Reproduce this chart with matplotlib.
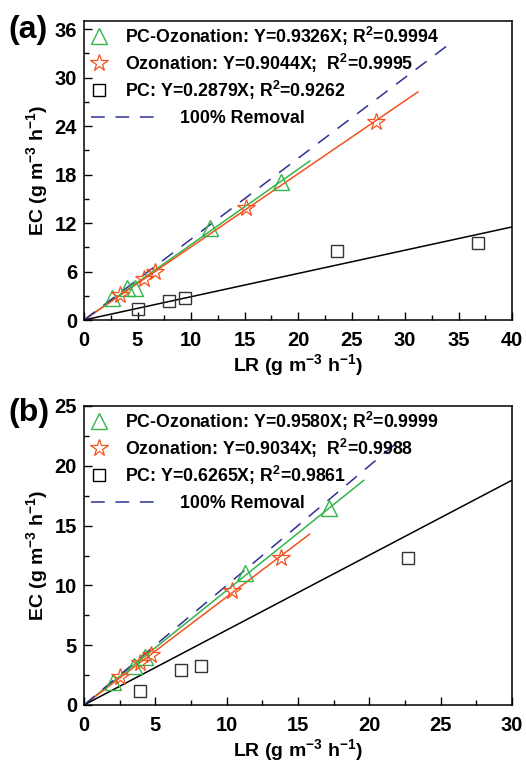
import matplotlib
matplotlib.use("Agg")
import matplotlib.pyplot as plt
import numpy as np
from matplotlib.ticker import MultipleLocator
from matplotlib.lines import Line2D

plt.rcParams['font.family'] = ['Liberation Sans', 'DejaVu Sans']
plt.rcParams['font.weight'] = 'bold'
plt.rcParams['axes.labelweight'] = 'bold'
plt.rcParams['mathtext.fontset'] = 'custom'
plt.rcParams['mathtext.rm'] = 'Liberation Sans:bold'
plt.rcParams['mathtext.bf'] = 'Liberation Sans:bold'
plt.rcParams['mathtext.it'] = 'Liberation Sans:bold'
plt.rcParams['mathtext.default'] = 'bf'

GREEN = '#33b54a'
RED = '#f4511e'
BLUE = '#2e3192'

# panel (a)
pco_x_a = [2.6, 4.0, 4.8, 11.8, 18.4]
pco_y_a = [2.7, 4.0, 3.9, 11.4, 17.1]
ozo_x_a = [3.4, 5.6, 6.6, 15.1, 27.3]
ozo_y_a = [3.1, 5.1, 6.0, 13.9, 24.5]
pc_x_a = [5.0, 7.9, 9.4, 23.6, 36.8]
pc_y_a = [1.4, 2.35, 2.7, 8.6, 9.5]
slopes_a = [0.9326, 0.9044, 0.2879]
fit_end_a = [21.1, 31.2, 40.0]
removal_end_a = 34.5
labels_a = ['PC-Ozonation: Y=0.9326X; R$^{2}$=0.9994',
            'Ozonation: Y=0.9044X;  R$^{2}$=0.9995',
            'PC: Y=0.2879X; R$^{2}$=0.9262']

# panel (b)
pco_x_b = [2.0, 3.5, 4.3, 11.3, 17.2]
pco_y_b = [1.95, 3.3, 4.0, 11.0, 16.5]
ozo_x_b = [2.5, 3.9, 4.7, 10.4, 13.8]
ozo_y_b = [2.35, 3.5, 4.2, 9.5, 12.3]
pc_x_b = [3.9, 6.8, 8.2, 22.7]
pc_y_b = [1.2, 2.9, 3.3, 12.3]
slopes_b = [0.9580, 0.9034, 0.6265]
fit_end_b = [19.6, 15.8, 30.0]
removal_end_b = 22.2
labels_b = ['PC-Ozonation: Y=0.9580X; R$^{2}$=0.9999',
            'Ozonation: Y=0.9034X;  R$^{2}$=0.9988',
            'PC: Y=0.6265X; R$^{2}$=0.9861']

unit = ' (g m$^{-3}$ h$^{-1}$)'

fig = plt.figure(figsize=(5.26, 7.65), dpi=100)
ax_a = fig.add_axes([84/526, 1-320/765, 428/526, 299/765])
ax_b = fig.add_axes([84/526, 1-705/765, 428/526, 299/765])


def draw_panel(ax, pco, ozo, pc, slopes, fit_end, rem_end, labels,
               xlim, ylim, xmaj, ymaj):
    cols = [GREEN, RED, 'black']
    for k, c in enumerate(cols):
        xx = np.array([0, fit_end[k]])
        ax.plot(xx, slopes[k]*xx, color=c, lw=1.1, zorder=2)
    xr = np.array([0, rem_end])
    ax.plot(xr, xr, color=BLUE, lw=1.1, dashes=(9, 7), zorder=2)
    ax.plot(pco[0], pco[1], ls='none', marker='^', ms=12, mfc='none',
            mec=GREEN, mew=1.0, zorder=3)
    ax.plot(ozo[0], ozo[1], ls='none', marker='*', ms=13, mfc='none',
            mec=RED, mew=0.9, zorder=3)
    ax.plot(pc[0], pc[1], ls='none', marker='s', ms=9, mfc='none',
            mec='#333333', mew=1.0, zorder=3)

    ax.set_xlim(*xlim)
    ax.set_ylim(*ylim)
    ax.xaxis.set_major_locator(MultipleLocator(xmaj))
    ax.xaxis.set_minor_locator(MultipleLocator(xmaj/2))
    ax.yaxis.set_major_locator(MultipleLocator(ymaj))
    ax.yaxis.set_minor_locator(MultipleLocator(ymaj/2))
    ax.tick_params(which='both', direction='in', top=False, right=False,
                   labelsize=14.5, width=1.0)
    ax.tick_params(which='major', length=6)
    ax.tick_params(which='minor', length=3.5)
    ax.tick_params(axis='x', pad=8)
    ax.tick_params(axis='y', pad=5)
    for lbl in ax.get_xticklabels() + ax.get_yticklabels():
        lbl.set_fontweight('bold')
    for s in ax.spines.values():
        s.set_linewidth(1.1)
    ax.set_xlabel('LR' + unit, fontsize=14, labelpad=1.5)
    ax.set_ylabel('EC' + unit, fontsize=14, labelpad=3)

    handles = [
        Line2D([], [], ls='none', marker='^', ms=12, mfc='none', mec=GREEN),
        Line2D([], [], ls='none', marker='*', ms=13, mfc='none', mec=RED, mew=0.9),
        Line2D([], [], ls='none', marker='s', ms=9, mfc='none', mec='black'),
    ]
    leg = ax.legend(handles, labels, loc='upper left', frameon=False,
                    fontsize=12.8, handlelength=0.9, handletextpad=1.0,
                    labelspacing=0.22, borderaxespad=0.0,
                    bbox_to_anchor=(0.0, 1.012))
    ax.add_artist(leg)
    dash = Line2D([], [], color=BLUE, lw=1.1, dashes=(9, 7))
    ax.legend([dash], ['100% Removal'], loc='upper left', frameon=False,
              fontsize=12.8, handlelength=3.7, handletextpad=1.3,
              borderaxespad=0.0, bbox_to_anchor=(0.0, 0.725))


draw_panel(ax_a, (pco_x_a, pco_y_a), (ozo_x_a, ozo_y_a), (pc_x_a, pc_y_a),
           slopes_a, fit_end_a, removal_end_a, labels_a,
           (0, 40), (0, 37), 5, 6)
draw_panel(ax_b, (pco_x_b, pco_y_b), (ozo_x_b, ozo_y_b), (pc_x_b, pc_y_b),
           slopes_b, fit_end_b, removal_end_b, labels_b,
           (0, 30), (0, 25), 5, 5)

fig.text(0.015, 1-30/765, '(a)', fontsize=23, ha='left', va='center')
fig.text(0.015, 1-413/765, '(b)', fontsize=23, ha='left', va='center')

fig.savefig('out.png', dpi=100)
